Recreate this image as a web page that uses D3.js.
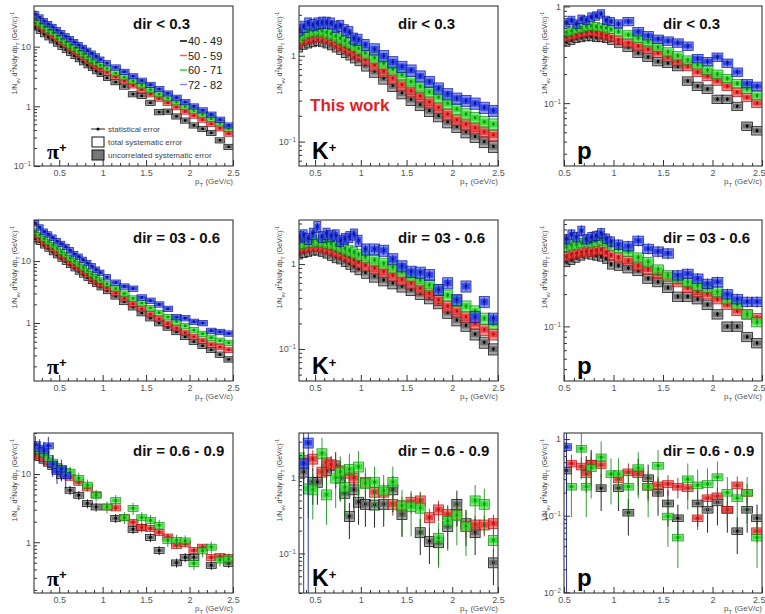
<!DOCTYPE html>
<html><head><meta charset="utf-8">
<script src="https://cdn.jsdelivr.net/npm/d3@7"></script>
<style>body{margin:0;background:#fff}svg{display:block;font-family:"Liberation Sans",Arial,sans-serif}</style>
</head><body>
<svg id="c" width="765" height="614"></svg>
<script>
// ---------------- data ----------------
const centralityLabels = ["40 - 49","50 - 59","60 - 71","72 - 82"];
const dirLabels = ["dir < 0.3","dir = 03 - 0.6","dir = 0.6 - 0.9"];
const xTickValues = [0.5,1,1.5,2,2.5];
const xTickLabels = ["0.5","1","1.5","2","2.5"];

const ptPi = [0.225,0.275,0.325,0.375,0.425,0.475,0.525,0.575,0.625,0.675,0.725,0.775,0.825,0.875,0.925,0.975,1.05,1.15,1.25,1.35,1.45,1.55,1.65,1.75,1.85,1.95,2.05,2.15,2.25,2.35,2.45];
const ptK = [0.325,0.375,0.425,0.475,0.525,0.575,0.625,0.675,0.725,0.775,0.825,0.875,0.925,0.975,1.05,1.15,1.25,1.35,1.45,1.55,1.65,1.75,1.85,1.95,2.05,2.15,2.25,2.35,2.45];
const ptP = [0.525,0.575,0.625,0.675,0.725,0.775,0.825,0.875,0.925,0.975,1.05,1.15,1.25,1.35,1.45,1.55,1.65,1.75,1.85,1.95,2.05,2.15,2.25,2.35,2.45];

// pi+, dir < 0.3
const pi1_40 = [21,18.5,16.2,14.4,12.8,11.3,10.0,8.9,7.9,7.0,6.2,5.5,4.9,4.4,3.9,3.5,3.0,2.55,2.15,1.6,1.5,1.15,0.8,0.82,0.68,0.58,0.48,0.42,0.36,0.27,0.21];
const pi1_50 = [25,22,19.5,17.2,15.2,13.5,12,10.7,9.5,8.4,7.5,6.7,5.9,5.3,4.7,4.2,3.7,3.1,2.65,2.25,1.9,1.6,1.35,1.15,0.97,0.82,0.7,0.6,0.51,0.43,0.35];
const pi1_60 = [28,24.5,21.5,19,17,15,13.3,11.8,10.5,9.4,8.4,7.5,6.7,6.0,5.4,4.9,4.3,3.6,3.1,2.65,2.25,1.9,1.6,1.37,1.17,0.99,0.85,0.73,0.62,0.52,0.42];
const pi1_72 = [35,31,27,24,21.5,19,17,15,13.5,12,10.7,9.6,8.6,7.7,6.9,6.1,5.3,4.5,3.8,3.2,2.7,2.3,1.95,1.65,1.4,1.18,1.0,0.86,0.73,0.6,0.48];
// K+, dir < 0.3
const k1_40 = [1.3,1.4,1.45,1.5,1.55,1.5,1.45,1.38,1.3,1.22,1.12,1.05,0.97,0.9,0.78,0.66,0.55,0.45,0.37,0.31,0.27,0.23,0.2,0.17,0.15,0.13,0.115,0.1,0.088];
const k1_50 = [1.45,1.55,1.62,1.68,1.72,1.7,1.62,1.55,1.45,1.36,1.26,1.18,1.1,1.02,0.9,0.78,0.66,0.55,0.46,0.39,0.34,0.29,0.25,0.21,0.18,0.16,0.145,0.13,0.12];
const k1_60 = [1.65,1.8,1.9,1.95,2.0,1.95,1.88,1.8,1.7,1.6,1.5,1.42,1.32,1.22,1.08,0.95,0.82,0.7,0.6,0.5,0.44,0.38,0.33,0.28,0.24,0.21,0.19,0.17,0.16];
const k1_72 = [2.0,2.2,2.4,2.3,2.4,2.45,2.45,2.4,2.2,2.25,2.0,1.9,1.6,1.55,1.35,1.2,1.0,0.85,0.75,0.68,0.58,0.5,0.42,0.36,0.32,0.3,0.28,0.25,0.23];
// p, dir < 0.3
const p1_40 = [0.43,0.45,0.47,0.48,0.49,0.49,0.48,0.48,0.47,0.45,0.42,0.38,0.33,0.30,0.27,0.26,0.24,0.17,0.15,0.14,0.11,0.11,0.093,0.058,0.052];
const p1_50 = [0.48,0.5,0.51,0.53,0.54,0.55,0.54,0.52,0.5,0.48,0.45,0.42,0.39,0.36,0.33,0.30,0.27,0.24,0.21,0.19,0.17,0.15,0.13,0.115,0.1];
const p1_60 = [0.54,0.56,0.58,0.6,0.62,0.63,0.62,0.61,0.6,0.58,0.55,0.51,0.47,0.43,0.38,0.34,0.31,0.28,0.25,0.22,0.2,0.18,0.16,0.14,0.12];
const p1_72 = [0.68,0.72,0.66,0.74,0.72,0.78,0.8,0.84,0.72,0.7,0.66,0.7,0.55,0.5,0.46,0.44,0.42,0.39,0.29,0.27,0.3,0.26,0.21,0.16,0.15];
// pi+, dir 0.3 - 0.6
const pi2_40 = [23,20.5,18,16,14,12.5,11,9.8,8.7,7.7,6.8,6.1,5.4,4.8,4.3,3.8,3.3,2.7,2.2,1.8,1.45,1.2,1.0,0.85,0.72,0.6,0.5,0.43,0.37,0.31,0.26];
const pi2_50 = [26,23,20,17.8,15.7,13.9,12.3,10.9,9.7,8.6,7.6,6.8,6.0,5.3,4.7,4.2,3.7,3.05,2.5,2.05,1.7,1.4,1.17,0.98,0.83,0.7,0.6,0.52,0.45,0.41,0.37];
const pi2_60 = [30,26.5,23,20.5,18,16,14.2,12.6,11.2,10,8.9,7.9,7.0,6.2,5.5,4.9,4.3,3.6,3.0,2.5,2.1,1.75,1.47,1.25,1.06,0.9,0.77,0.67,0.58,0.52,0.48];
const pi2_72 = [41,35,30,27,24,21,19,17,15,13,11.8,10.5,9.3,8.3,7.3,6.5,5.5,4.5,3.9,3.6,2.6,2.3,2.0,1.7,1.25,1.2,1.05,1.0,0.75,0.72,0.68];
// K+, dir 0.3 - 0.6
const k2_40 = [1.35,1.4,1.45,1.5,1.5,1.45,1.38,1.3,1.22,1.18,1.1,1.02,0.95,0.88,0.8,0.72,0.65,0.6,0.55,0.5,0.45,0.4,0.35,0.27,0.22,0.19,0.15,0.12,0.1];
const k2_50 = [1.55,1.6,1.62,1.65,1.65,1.6,1.55,1.48,1.42,1.35,1.27,1.2,1.12,1.05,0.97,0.9,0.82,0.74,0.66,0.6,0.52,0.45,0.38,0.32,0.28,0.24,0.2,0.17,0.15];
const k2_60 = [1.75,1.8,1.85,1.85,1.9,1.85,1.8,1.75,1.68,1.6,1.52,1.45,1.38,1.3,1.22,1.12,1.02,0.92,0.82,0.73,0.65,0.57,0.5,0.43,0.37,0.32,0.28,0.23,0.2];
const k2_72 = [2.1,2.2,2.0,2.3,2.75,2.1,2.3,2.15,2.2,1.9,2.0,2.1,2.25,1.9,1.5,1.5,1.45,1.15,0.95,0.82,0.8,0.75,0.5,0.6,0.38,0.55,0.24,0.36,0.23];
// p, dir 0.3 - 0.6
const p2_40 = [0.4,0.42,0.44,0.46,0.48,0.47,0.46,0.45,0.43,0.38,0.37,0.35,0.33,0.28,0.26,0.23,0.19,0.19,0.18,0.16,0.13,0.1,0.1,0.08,0.07];
const p2_50 = [0.45,0.47,0.48,0.49,0.5,0.5,0.51,0.52,0.49,0.46,0.44,0.41,0.37,0.34,0.31,0.29,0.26,0.23,0.21,0.2,0.18,0.16,0.14,0.13,0.12];
const p2_60 = [0.55,0.57,0.58,0.6,0.62,0.6,0.62,0.64,0.6,0.57,0.54,0.5,0.44,0.4,0.34,0.3,0.28,0.26,0.24,0.23,0.21,0.18,0.16,0.13,0.11];
const p2_72 = [0.65,0.72,0.68,0.78,0.65,0.68,0.7,0.74,0.66,0.62,0.58,0.56,0.63,0.53,0.5,0.48,0.3,0.31,0.28,0.25,0.26,0.2,0.18,0.17,0.17];
// pi+, dir 0.6 - 0.9
const pi3_40 = [19,17.5,16,14.5,13,11.5,9.5,null,5.8,null,4.9,null,3.7,null,3.3,null,null,2.25,null,1.55,1.65,1.18,0.76,null,0.5,0.6,0.6,null,0.46,null,0.49];
const pi3_50 = [20,18.5,17,15.5,14,12.5,11.4,10,9,null,7.6,null,6.3,null,5,null,3.3,3.2,2.3,1.97,1.65,1.6,1.4,1.2,0.9,0.95,0.76,0.85,0.6,0.62,0.6];
const pi3_60 = [null,22,20,17,15,13,12,11,10.7,null,8.7,null,6.9,null,4.9,null,3.3,4.1,2.3,3.15,2.3,2.1,1.78,1.07,1.07,1.05,0.49,0.75,0.85,0.55,0.57];
const pi3_72 = [27,24,22,26,14,11,12,9.5,null,null,null,null,null,null,null,null,null,null,null,null,null,null,null,null,null,null,null,null,null,null,null];
// K+, dir 0.6 - 0.9
const k3_40 = [null,1.2,null,0.88,0.88,null,1.25,null,1.45,1.0,0.63,0.31,0.7,0.48,0.45,0.44,0.45,0.7,0.33,null,0.19,0.145,0.14,0.23,0.45,0.25,0.19,null,0.076];
const k3_50 = [null,1.7,null,1.78,null,1.2,1.6,1.5,null,1.25,null,1.16,1.0,null,0.88,0.65,0.65,0.45,0.43,0.48,0.5,0.3,0.38,0.33,0.33,0.23,0.24,0.24,0.25];
const k3_60 = [1.85,null,0.72,0.7,null,2.1,0.6,null,1.0,1.2,0.75,1.3,null,1.4,0.85,0.88,0.68,0.88,0.43,0.42,0.4,null,0.16,0.27,0.32,0.23,0.5,0.45,0.15];
const k3_72 = [null,1.55,2.9,null,null,null,null,null,null,null,null,null,null,null,null,null,null,null,null,null,null,null,null,null,null,null,null,null,null];
// p, dir 0.6 - 0.9
const p3_40 = [0.39,null,null,null,0.4,0.48,null,0.23,null,null,0.23,0.11,0.37,0.31,0.2,0.145,0.093,null,0.145,0.12,0.15,0.12,0.063,0.12,0.093];
const p3_50 = [null,0.48,null,0.44,0.35,0.48,null,0.46,null,null,0.3,0.37,0.35,0.24,0.25,0.26,0.24,0.23,0.093,0.17,0.18,0.12,0.25,0.2,0.063];
const p3_60 = [null,0.24,null,0.75,0.24,0.42,null,0.58,null,0.35,0.35,0.24,0.42,0.24,0.45,0.098,0.052,0.3,0.25,0.26,0.32,0.2,0.17,0.2,0.052];
const p3_72 = [0.79,null,null,null,null,null,null,null,null,null,null,null,null,null,null,null,null,null,null,null,null,null,null,null,null];

// relative statistical errors per series (40-49, 50-59, 60-71, 72-82)
const stat_pi1 = [0.02,0.02,0.02,0.03], stat_k1 = [0.04,0.04,0.05,0.08], stat_p1 = [0.05,0.05,0.06,0.08];
const stat_pi2 = [0.02,0.02,0.03,0.04], stat_k2 = [0.05,0.05,0.07,0.12], stat_p2 = [0.05,0.06,0.08,0.12];
const stat_pi3 = [0.15,0.1,0.2,0.35],   stat_k3 = [0.5,0.3,0.6,5],       stat_p3 = [0.5,0.3,0.6,5];
// relative systematic errors per particle (total), uncorrelated part as fraction
const sysRel = {pi:0.1, K:0.15, p:0.1};
const uncorrFrac = 0.55;

// ---------------- layout ----------------
const cols = [{l:34,r:233},{l:299,r:498},{l:564,r:762}];
const rows = [{t:6,b:166},{t:220,b:381},{t:433,b:593}];
const xDomains = [[0.21,2.5],[0.324,2.5],[0.5,2.5]];
const yDomains = [
  [[0.1,48],[0.052,3.8],[0.0224,1.01]],
  [[0.116,46],[0.042,3.3],[0.031,0.98]],
  [[0.18,40],[0.03,3.9],[0.0098,1.2]]];

const panels = [
  {part:"pi", pt:ptPi, series:[pi1_40,pi1_50,pi1_60,pi1_72], stat:stat_pi1},
  {part:"K",  pt:ptK,  series:[k1_40,k1_50,k1_60,k1_72],     stat:stat_k1},
  {part:"p",  pt:ptP,  series:[p1_40,p1_50,p1_60,p1_72],     stat:stat_p1},
  {part:"pi", pt:ptPi, series:[pi2_40,pi2_50,pi2_60,pi2_72], stat:stat_pi2},
  {part:"K",  pt:ptK,  series:[k2_40,k2_50,k2_60,k2_72],     stat:stat_k2},
  {part:"p",  pt:ptP,  series:[p2_40,p2_50,p2_60,p2_72],     stat:stat_p2},
  {part:"pi", pt:ptPi, series:[pi3_40,pi3_50,pi3_60,pi3_72], stat:stat_pi3},
  {part:"K",  pt:ptK,  series:[k3_40,k3_50,k3_60,k3_72],     stat:stat_k3},
  {part:"p",  pt:ptP,  series:[p3_40,p3_50,p3_60,p3_72],     stat:stat_p3}
];

const colors = [
  {light:"#6e6e6e", dark:"#000000", legend:"#000000"},
  {light:"#f04040", dark:"#b01010", legend:"#f06060"},
  {light:"#38e038", dark:"#108c10", legend:"#3ad03a"},
  {light:"#3246f0", dark:"#0a1690", legend:"#8090e0"}];

const svg = d3.select("#c");
const defs = svg.append("defs");

function supText(sel, base, sup){
  sel.append("tspan").text(base);
  if(sup) sel.append("tspan").attr("baseline-shift","super").style("font-size","70%").text(sup);
}

panels.forEach((P,i)=>{
  const r = Math.floor(i/3), c = i%3;
  const L=cols[c].l, R=cols[c].r, T=rows[r].t, B=rows[r].b;
  const x = d3.scaleLinear().domain(xDomains[c]).range([L,R]);
  const y = d3.scaleLog().domain(yDomains[r][c]).range([B,T]);
  const [ymin,ymax] = yDomains[r][c];
  const g = svg.append("g");
  const cid = "clip"+i;
  defs.append("clipPath").attr("id",cid).append("rect").attr("x",L).attr("y",T).attr("width",R-L).attr("height",B-T);
  const dg = g.append("g").attr("clip-path",`url(#${cid})`);
  const sys = sysRel[P.part];
  const minW = r===2 ? 10 : 7;

  P.series.forEach((vals,s)=>{
    const col = colors[s];
    const sg = dg.append("g");
    vals.forEach((v,k)=>{
      if(v==null) return;
      const xv = P.pt[k];
      const prev = k>0 ? P.pt[k-1] : null, next = k<P.pt.length-1 ? P.pt[k+1] : null;
      let sp;
      if(prev!=null && next!=null) sp = Math.min(xv-prev, next-xv);
      else sp = prev!=null ? xv-prev : next-xv;
      const wpx = Math.max(minW, (x(xv+sp)-x(xv))*1.1);
      const cx = x(xv);
      const yt = y(v*(1+sys)), yb = y(v*(1-sys));
      sg.append("rect").attr("x",cx-wpx/2).attr("y",yt).attr("width",wpx).attr("height",yb-yt)
        .attr("fill",col.light).attr("fill-opacity",0.6).attr("stroke",col.dark).attr("stroke-opacity",0.85).attr("stroke-width",0.8);
      const yt2 = y(v*(1+sys*uncorrFrac)), yb2 = y(v*(1-sys*uncorrFrac));
      sg.append("rect").attr("x",cx-wpx/2+1).attr("y",yt2).attr("width",wpx-2).attr("height",yb2-yt2)
        .attr("fill",col.light).attr("fill-opacity",0.95);
      const e = P.stat[s];
      const lo = v*(1-e) > ymin*0.5 ? v*(1-e) : ymin*0.5;
      sg.append("line").attr("x1",cx).attr("x2",cx).attr("y1",y(Math.min(v*(1+e), ymax*3))).attr("y2",y(lo))
        .attr("stroke",col.dark).attr("stroke-width",1).attr("stroke-opacity",0.85);
      sg.append("rect").attr("x",cx-1.2).attr("y",y(v)-1.2).attr("width",2.4).attr("height",2.4).attr("fill",col.dark);
    });
  });

  g.append("rect").attr("x",L).attr("y",T).attr("width",R-L).attr("height",B-T)
    .attr("fill","none").attr("stroke","#222").attr("stroke-width",1);

  const xMinor = d3.range(0.3,2.51,0.1).map(d=>+d.toFixed(2)).filter(d=>d>=xDomains[c][0] && !xTickValues.includes(d));
  g.append("g").attr("transform",`translate(0,${B})`)
    .call(d3.axisBottom(x).tickValues(xMinor).tickSize(-3).tickFormat(""))
    .call(a=>{a.select(".domain").remove(); a.selectAll("line").attr("stroke","#333");});
  g.append("g").attr("transform",`translate(0,${B})`)
    .call(d3.axisBottom(x).tickValues(xTickValues).tickSize(-6).tickPadding(4).tickFormat((d,j)=>xTickLabels[j]))
    .call(a=>{a.select(".domain").remove(); a.selectAll("line").attr("stroke","#333");
      a.selectAll("text").attr("fill","#555").style("font-size","9px").attr("font-family",'"Liberation Sans",Arial,sans-serif');
      if(c===2) a.selectAll("text").filter(d=>d===2.5).attr("text-anchor","end").attr("dx",3);
    });

  const decades = [], minors = [];
  for(let n=-3;n<=2;n++){
    const base = Math.pow(10,n);
    if(base>=ymin && base<=ymax) decades.push(base);
    for(let m=2;m<=9;m++){ const v=m*base; if(v>=ymin && v<=ymax) minors.push(v); }
  }
  g.append("g").attr("transform",`translate(${L},0)`)
    .call(d3.axisLeft(y).tickValues(minors).tickSize(-3).tickFormat(""))
    .call(a=>{a.select(".domain").remove(); a.selectAll("line").attr("stroke","#333");});
  const ya = g.append("g").attr("transform",`translate(${L},0)`)
    .call(d3.axisLeft(y).tickValues(decades).tickSize(-6).tickPadding(3).tickFormat(""))
    .call(a=>{a.select(".domain").remove(); a.selectAll("line").attr("stroke","#333");});
  ya.selectAll(".tick").each(function(d){
    const t = d3.select(this).select("text").attr("fill","#555").style("font-size","9px").attr("font-family",'"Liberation Sans",Arial,sans-serif');
    const n = Math.round(Math.log10(d));
    if(n===0) t.text("1");
    else if(n===1) t.text("10");
    else supText(t,"10",String(n).replace("-","\u2212"));
  });

  const yt = g.append("text").attr("transform",`translate(${L-17},${T+6}) rotate(-90)`)
    .attr("text-anchor","end").attr("fill","#444").style("font-size","7px");
  yt.append("tspan").text("1/N");
  yt.append("tspan").attr("baseline-shift","sub").style("font-size","5px").text("ev");
  yt.append("tspan").text(" d");
  yt.append("tspan").attr("baseline-shift","super").style("font-size","5px").text("2");
  yt.append("tspan").text("N/dy dp");
  yt.append("tspan").attr("baseline-shift","sub").style("font-size","5px").text("T");
  yt.append("tspan").text(" (GeV/c)");
  yt.append("tspan").attr("baseline-shift","super").style("font-size","5px").text("-1");

  const xt = g.append("text").attr("x",R).attr("y",B+18).attr("text-anchor","end").attr("fill","#555").style("font-size","8px");
  xt.append("tspan").text("p");
  xt.append("tspan").attr("baseline-shift","sub").style("font-size","6px").text("T");
  xt.append("tspan").text(" (GeV/c)");

  g.append("text").attr("x",L+99).attr("y",T+23).attr("fill","#111")
    .style("font-size","15px").style("font-weight","bold").text(dirLabels[r]);

  const pl = g.append("text").attr("x",L+13).attr("y",B-7).attr("fill","#000").style("font-weight","bold");
  if(P.part==="pi"){
    pl.append("tspan").style("font-family",'"Liberation Serif","DejaVu Serif",serif').style("font-size","22px").text("\u03c0");
    pl.append("tspan").attr("baseline-shift","super").style("font-size","13px").text("+");
  } else if(P.part==="K"){
    pl.style("font-size","23px");
    pl.append("tspan").text("K");
    pl.append("tspan").attr("baseline-shift","super").style("font-size","13px").text("+");
  } else {
    pl.style("font-size","24px").text("p");
  }

  if(i===1){
    g.append("text").attr("x",L+11).attr("y",111).attr("fill","#e01e1e")
      .style("font-size","17px").style("font-weight","bold").text("This work");
  }

  if(i===0){
    const lg = g.append("g");
    centralityLabels.forEach((lab,s)=>{
      const yy = 41 + s*14.5;
      lg.append("line").attr("x1",180).attr("x2",187).attr("y1",yy).attr("y2",yy).attr("stroke",colors[s].legend).attr("stroke-width",1.5);
      lg.append("text").attr("x",188).attr("y",yy+4).attr("fill","#222").style("font-size","11px").text(lab);
    });
    const eg = g.append("g");
    eg.append("line").attr("x1",91).attr("x2",105).attr("y1",129).attr("y2",129).attr("stroke","#222").attr("stroke-width",1);
    eg.append("circle").attr("cx",98).attr("cy",129).attr("r",1.5).attr("fill","#000");
    eg.append("text").attr("x",108).attr("y",131.5).attr("fill","#444").style("font-size","8px").text("statistical error");
    eg.append("rect").attr("x",92).attr("y",137).attr("width",12).attr("height",10).attr("fill","#fff").attr("stroke","#111");
    eg.append("text").attr("x",108).attr("y",145).attr("fill","#444").style("font-size","8px").text("total systematic error");
    eg.append("rect").attr("x",92).attr("y",150).attr("width",12).attr("height",10).attr("fill","#777").attr("stroke","#111");
    eg.append("text").attr("x",108).attr("y",158).attr("fill","#444").style("font-size","8px").text("uncorrelated systematic error");
  }
});
</script>
</body></html>
